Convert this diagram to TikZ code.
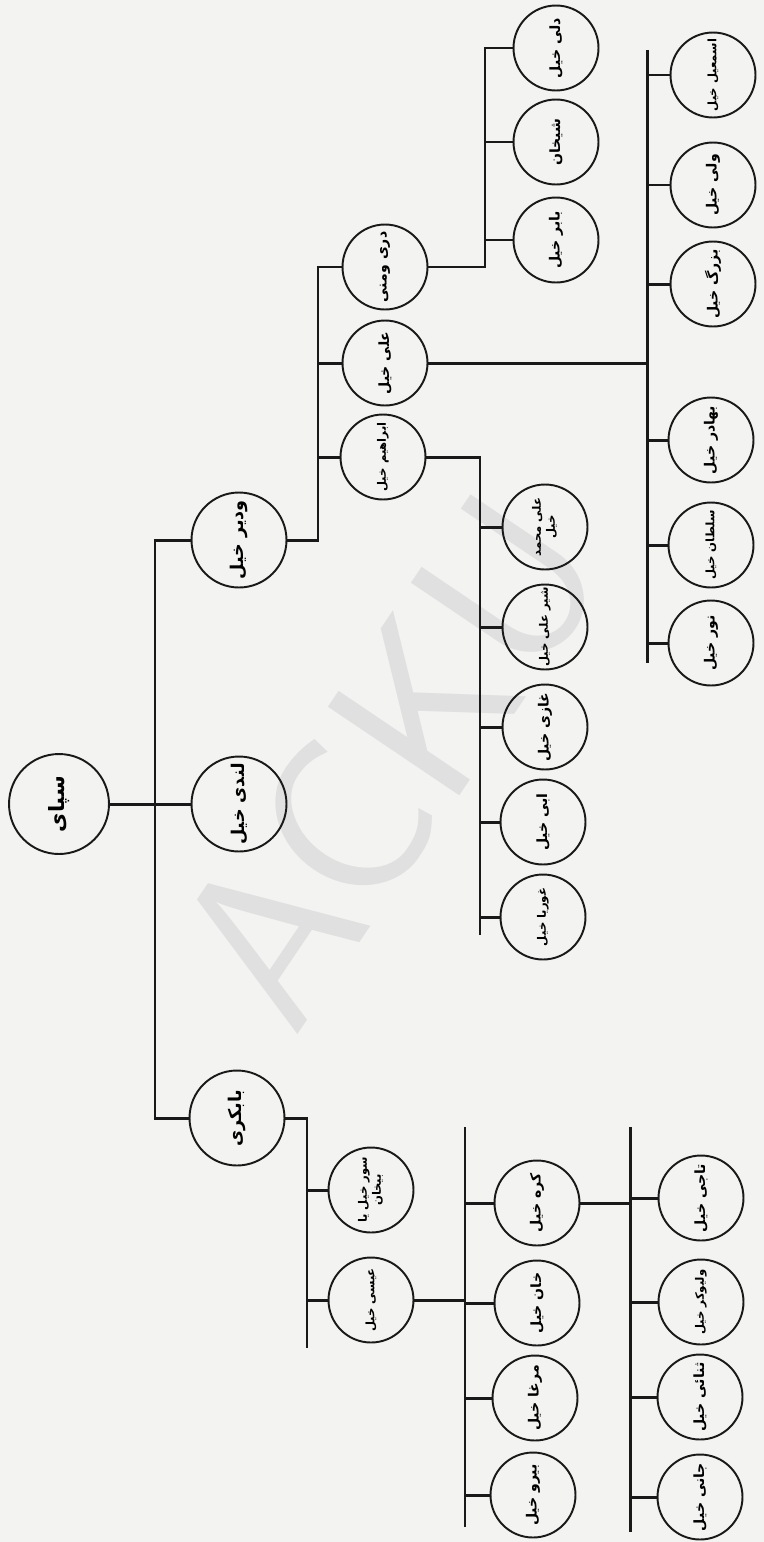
\documentclass[tikz,border=0pt]{standalone}
\usepackage{fontspec}
\usepackage{tikz}
\usetikzlibrary{calc}
\usepackage{xcolor}
\newfontfamily\arabicfont[Script=Arabic]{DejaVu Sans}
\TeXXeTstate=1
\definecolor{PaperGray}{RGB}{243,243,241}
\definecolor{MarkGray}{RGB}{224,224,224}
\definecolor{InkBlack}{RGB}{25,25,25}
\newcommand{\clan}[1]{\rotatebox{90}{\arabicfont\bfseries\beginR #1\endR}}
\tikzset{
  clanbox/.style={draw=InkBlack,circle,line width=1.1pt,
    minimum size=1.7cm,inner sep=0pt,font=\fontsize{8}{9.5}\selectfont},
  longbox/.style={clanbox,font=\fontsize{6.6}{8}\selectfont},
  branchbox/.style={clanbox,minimum size=1.9cm,font=\fontsize{10}{11}\selectfont},
  rootbox/.style={clanbox,minimum size=2.0cm,font=\fontsize{12}{13}\selectfont},
  treeline/.style={draw=InkBlack,line width=1.7pt},
  watermark/.style={text=MarkGray,rotate=56,
    font=\sffamily\fontsize{130}{130}\selectfont},
}

\begin{document}
\begin{tikzpicture}[x=0.02cm,y=-0.02cm]
  \fill[PaperGray] (0,0) rectangle (764,1542);
  \useasboundingbox (0,0) rectangle (764,1542);
  \node[watermark] (mark) at (390,760) {ACKU};

  \node[rootbox] (sapai) at (59,804) {\clan{سپای}};
  \node[branchbox] (wadir) at (239,540) {\clan{ودیر خیل}};
  \node[branchbox] (landi) at (239,804) {\clan{لندی خیل}};
  \node[branchbox] (babakri) at (237,1118) {\clan{بابکری}};

  \node[clanbox] (darwani) at (385,267) {\clan{دری ومنی}};
  \node[clanbox] (alikhel) at (385,363) {\clan{علی خیل}};
  \node[longbox] (ibrahim) at (383,457) {\clan{ابراهیم خیل}};

  \node[clanbox] (dali) at (556,48) {\clan{دلی خیل}};
  \node[clanbox] (shaikhan) at (556,142) {\clan{شیخان}};
  \node[clanbox] (babar) at (556,240) {\clan{بابر خیل}};

  \node[longbox] (ismail) at (713,75) {\clan{اسمعیل خیل}};
  \node[clanbox] (wali) at (713,185) {\clan{ولی خیل}};
  \node[clanbox] (buzurg) at (713,284) {\clan{بزرگ خیل}};
  \node[clanbox] (bahadur) at (711,440) {\clan{بهادر خیل}};
  \node[longbox] (sultan) at (711,545) {\clan{سلطان خیل}};
  \node[clanbox] (nur) at (711,643) {\clan{نور خیل}};

  \node[longbox] (alimuh) at (545,527) {\rotatebox{90}{\arabicfont\bfseries
    \begin{tabular}{@{}c@{}}\beginR علی محمد\endR\\ \beginR خیل\endR\end{tabular}}};
  \node[longbox] (sherali) at (545,627) {\clan{شیر علی خیل}};
  \node[clanbox] (ghazi) at (545,727) {\clan{غازی خیل}};
  \node[clanbox] (abi) at (543,822) {\clan{ابی خیل}};
  \node[longbox] (ghoriya) at (543,917) {\clan{غوریا خیل}};

  \node[longbox] (sur) at (371,1190) {\rotatebox{90}{\arabicfont\bfseries
    \begin{tabular}{@{}c@{}}\beginR سور خیل یا\endR\\ \beginR بیخان\endR\end{tabular}}};
  \node[longbox] (isa) at (371,1300) {\clan{عیسی خیل}};

  \node[clanbox] (kara) at (537,1203) {\clan{کره خیل}};
  \node[clanbox] (khan) at (537,1303) {\clan{خان خیل}};
  \node[clanbox] (murgha) at (535,1398) {\clan{مرغا خیل}};
  \node[clanbox] (biru) at (533,1495) {\clan{بیرو خیل}};

  \node[clanbox] (taji) at (701,1198) {\clan{تاجی خیل}};
  \node[longbox] (waliwkar) at (701,1302) {\clan{ولیوکر خیل}};
  \node[clanbox] (sanai) at (700,1397) {\clan{ثنائی خیل}};
  \node[clanbox] (jani) at (700,1497) {\clan{جانی خیل}};

  \coordinate (busA) at (155,0);
  \coordinate (busB) at (318,0);
  \coordinate (busC) at (485,0);
  \coordinate (busD) at (647,0);
  \coordinate (busE) at (480,0);
  \coordinate (busF) at (307,0);
  \coordinate (busG) at (465,0);
  \coordinate (busH) at (630,0);
  \coordinate (dTop) at (647,50);
  \coordinate (dEnd) at (647,663);
  \coordinate (eEnd) at (480,935);
  \coordinate (fEnd) at (307,1348);
  \coordinate (gTop) at (465,1127);
  \coordinate (gEnd) at (465,1527);
  \coordinate (hTop) at (630,1127);
  \coordinate (hEnd) at (630,1532);

  \draw[treeline] (sapai) -- (landi);
  \draw[treeline] (wadir.west) -| (busA |- babakri) -- (babakri.west);

  \draw[treeline] (wadir.east) -| (busB |- darwani) -- (darwani.west);
  \draw[treeline] (alikhel.west) -- (alikhel.west -| busB);
  \draw[treeline] (ibrahim.west) -- (ibrahim.west -| busB);

  \draw[treeline] (darwani.east) -| (busC |- dali) -- (dali.west);
  \draw[treeline] (shaikhan.west) -- (shaikhan.west -| busC);
  \draw[treeline] (babar.west) -- (babar.west -| busC);

  \draw[treeline] (alikhel.east) -- (alikhel.east -| busD);
  \draw[treeline] (dTop) -- (dEnd);
  \draw[treeline] (ismail.west) -- (ismail.west -| busD);
  \draw[treeline] (wali.west) -- (wali.west -| busD);
  \draw[treeline] (buzurg.west) -- (buzurg.west -| busD);
  \draw[treeline] (bahadur.west) -- (bahadur.west -| busD);
  \draw[treeline] (sultan.west) -- (sultan.west -| busD);
  \draw[treeline] (nur.west) -- (nur.west -| busD);

  \draw[treeline] (ibrahim.east) -| (eEnd);
  \draw[treeline] (alimuh.west) -- (alimuh.west -| busE);
  \draw[treeline] (sherali.west) -- (sherali.west -| busE);
  \draw[treeline] (ghazi.west) -- (ghazi.west -| busE);
  \draw[treeline] (abi.west) -- (abi.west -| busE);
  \draw[treeline] (ghoriya.west) -- (ghoriya.west -| busE);

  \draw[treeline] (babakri.east) -| (fEnd);
  \draw[treeline] (sur.west) -- (sur.west -| busF);
  \draw[treeline] (isa.west) -- (isa.west -| busF);

  \draw[treeline] (isa.east) -- (isa.east -| busG);
  \draw[treeline] (gTop) -- (gEnd);
  \draw[treeline] (kara.west) -- (kara.west -| busG);
  \draw[treeline] (khan.west) -- (khan.west -| busG);
  \draw[treeline] (murgha.west) -- (murgha.west -| busG);
  \draw[treeline] (biru.west) -- (biru.west -| busG);

  \draw[treeline] (kara.east) -- (kara.east -| busH);
  \draw[treeline] (hTop) -- (hEnd);
  \draw[treeline] (taji.west) -- (taji.west -| busH);
  \draw[treeline] (waliwkar.west) -- (waliwkar.west -| busH);
  \draw[treeline] (sanai.west) -- (sanai.west -| busH);
  \draw[treeline] (jani.west) -- (jani.west -| busH);
\end{tikzpicture}
\end{document}
